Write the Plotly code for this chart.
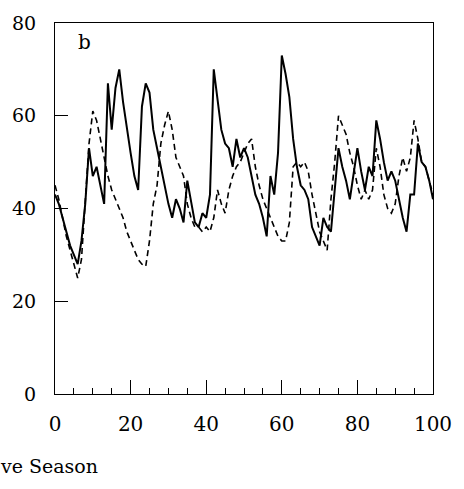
import plotly.graph_objects as go

# Season index shared by both series
seasons = list(range(0, 101))

# Solid series
solid_values = [
    43, 41, 38, 35, 32, 30, 28, 33, 41, 53,   # 0-9
    47, 49, 45, 41, 67, 57, 66, 70, 63, 57,   # 10-19
    52, 47, 44, 62, 67, 65, 57, 53, 49, 45,   # 20-29
    41, 38, 42, 40, 37, 46, 41, 37, 36, 39,   # 30-39
    38, 43, 70, 64, 57, 54, 53, 49, 55, 51,   # 40-49
    53, 51, 47, 43, 41, 38, 34, 47, 43, 52,   # 50-59
    73, 69, 64, 55, 49, 45, 44, 42, 36, 34,   # 60-69
    32, 38, 36, 35, 44, 53, 49, 46, 42, 48,   # 70-79
    53, 48, 44, 49, 47, 59, 55, 50, 46, 48,   # 80-89
    46, 42, 38, 35, 43, 43, 54, 50, 49, 46,   # 90-99
    42,                                       # 100
]

# Dashed series
dashed_values = [
    45, 42, 38, 34, 31, 28, 25, 29, 42, 54,   # 0-9
    61, 59, 55, 51, 47, 44, 42, 40, 38, 35,   # 10-19
    33, 31, 29, 28, 27.5, 33, 41, 45, 54, 58, # 20-29
    61, 57, 51, 49, 47, 41, 38, 36, 36, 35,   # 30-39
    36, 35, 38, 44, 41, 39, 44, 47, 49, 50,   # 40-49
    52, 54, 55, 49, 45, 42, 40, 38, 36, 34,   # 50-59
    33, 33, 37, 49, 50, 49, 50, 48, 43, 39,   # 60-69
    35, 33, 31, 42, 50, 60, 58, 56, 52, 49,   # 70-79
    45, 42, 44, 42, 44, 53, 49, 43, 40, 39,   # 80-89
    41, 47, 51, 48, 51, 59, 55, 50, 49, 46,   # 90-99
    43,                                       # 100
]

x_ticks = [0, 20, 40, 60, 80, 100]
y_ticks = [0, 20, 40, 60, 80]

FONT = "DejaVu Serif"

fig = go.Figure()
fig.add_trace(go.Scatter(
    x=seasons, y=dashed_values, mode="lines",
    line=dict(color="black", width=1.6, dash="6px,4px"),
    showlegend=False,
))
fig.add_trace(go.Scatter(
    x=seasons, y=solid_values, mode="lines",
    line=dict(color="black", width=2),
    showlegend=False,
))

# Panel letter
fig.add_annotation(
    x=7.8, y=76, xref="x", yref="y", text="b", showarrow=False,
    font=dict(family=FONT, size=20, color="black"),
)
# Axis caption below the plot
fig.add_annotation(
    x=-0.152, y=-0.193, xref="paper", yref="paper", text="ve Season",
    showarrow=False, xanchor="left", yanchor="middle",
    font=dict(family=FONT, size=19, color="black"),
)

fig.update_xaxes(
    range=[0, 100], tickvals=x_ticks, ticktext=[str(v) for v in x_ticks],
    ticks="inside", ticklen=14, tickwidth=1, tickcolor="black",
    minor=dict(ticks="inside", ticklen=6, dtick=5, tickcolor="black", tickwidth=1),
    showline=True, linecolor="black", linewidth=1, mirror=True,
    showgrid=False, zeroline=False, ticklabelstandoff=12,
    tickfont=dict(family=FONT, size=20, color="black"),
)
fig.update_yaxes(
    range=[0, 80], tickvals=y_ticks, ticktext=[str(v) for v in y_ticks],
    ticks="inside", ticklen=13, tickwidth=1, tickcolor="black",
    showline=True, linecolor="black", linewidth=1, mirror=True,
    showgrid=False, zeroline=False, ticklabelstandoff=14,
    tickfont=dict(family=FONT, size=19, color="black"),
)

fig.update_layout(
    width=464, height=489,
    margin=dict(l=53, r=26, t=15, b=95),
    paper_bgcolor="white", plot_bgcolor="white",
    font=dict(family=FONT),
)

fig.write_html("out.html")
